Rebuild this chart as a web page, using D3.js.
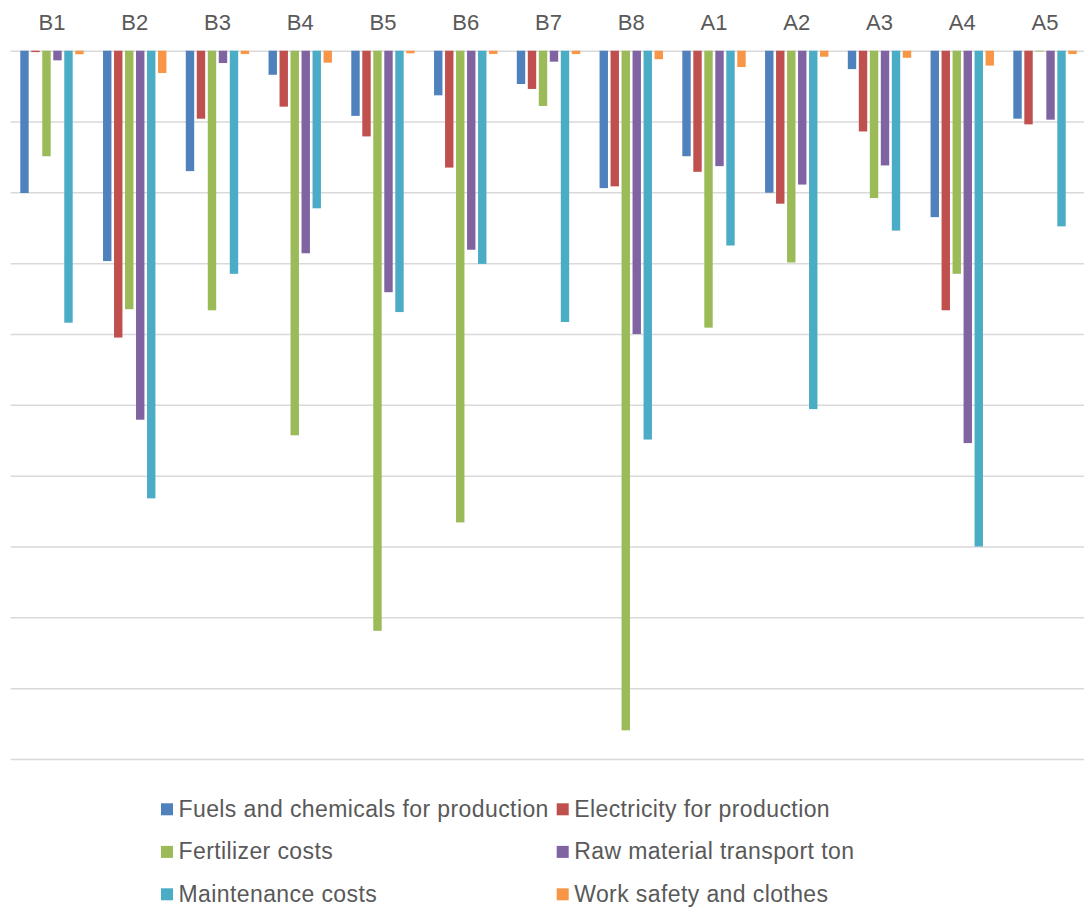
<!DOCTYPE html>
<html>
<head>
<meta charset="utf-8">
<script src="https://cdn.jsdelivr.net/npm/d3@7"></script>
<style>
  html, body { margin: 0; padding: 0; background: #fff; }
  svg { display: block; }
  text { font-family: "Liberation Sans", Arial, sans-serif; fill: #595959; }
</style>
</head>
<body>
<svg id="chart" width="1084" height="911"></svg>
<script>
// ---- data (values in grid units x10; one gridline = 10) ----
const categories = ["B1","B2","B3","B4","B5","B6","B7","B8","A1","A2","A3","A4","A5"];
const seriesNames = [
  "Fuels and chemicals for production",
  "Electricity for production",
  "Fertilizer costs",
  "Raw material transport ton",
  "Maintenance costs",
  "Work safety and clothes"
];
const fuels       = [-20.1, -29.7, -17.0,  -3.4,  -9.2,  -6.3,  -4.7, -19.4, -14.9, -20.05, -2.6, -23.5,  -9.6];
const electricity = [ -0.2, -40.5,  -9.6,  -7.9, -12.1, -16.5,  -5.4, -19.15,-17.1, -21.6, -11.4, -36.65, -10.4];
const fertilizer  = [-14.9, -36.5, -36.65, -54.3, -81.9, -66.6,  -7.8, -95.95,-39.1, -29.9, -20.8, -31.5,  -0.1];
const transport   = [ -1.36,-52.1,  -1.74, -28.6, -34.1, -28.1,  -1.55,-40.0, -16.3, -18.9, -16.2, -55.4,  -9.74];
const maintenance = [-38.4, -63.2, -31.5, -22.25, -36.9, -30.1, -38.3, -54.9, -27.5, -50.6, -25.4, -70.0, -24.8];
const safety      = [ -0.5,  -3.15, -0.47, -1.69, -0.37, -0.47, -0.47, -1.2,  -2.3,  -0.85, -1.0,  -2.1,  -0.47];
const colors = ["#4F81BD","#C0504D","#9BBB59","#8064A2","#4BACC6","#F79646"];
const yTicks = [0,-10,-20,-30,-40,-50,-60,-70,-80,-90,-100];

const seriesValues = [fuels, electricity, fertilizer, transport, maintenance, safety];

const svg = d3.select("#chart");
const plot = { left: 10.6, right: 1086.4, top: 50.7, bottom: 759 };

const x0 = d3.scaleBand().domain(categories).range([plot.left, plot.right])
  .paddingInner(0.234).paddingOuter(0.117);
const x1 = d3.scaleBand().domain(d3.range(seriesNames.length)).range([0, x0.bandwidth()])
  .paddingInner(0.236).paddingOuter(0);
const y = d3.scaleLinear().domain([-100, 0]).range([plot.bottom, plot.top]);

// gridlines
const grid = svg.append("g").attr("transform", `translate(${plot.left},0)`)
  .call(d3.axisLeft(y).tickValues(yTicks).tickSize(-(plot.right - plot.left)).tickFormat(""));
grid.select(".domain").remove();
grid.selectAll(".tick line").attr("stroke", "#d9d9d9").attr("stroke-width", 1.5);

// bars
const groups = svg.append("g").selectAll("g").data(categories).join("g")
  .attr("transform", d => `translate(${x0(d)},0)`);
groups.selectAll("rect")
  .data((c, ci) => seriesValues.map((vals, si) => ({ si, v: vals[ci] })))
  .join("rect")
  .attr("x", d => x1(d.si))
  .attr("width", x1.bandwidth())
  .attr("y", d => y(Math.max(0, d.v)))
  .attr("height", d => Math.abs(y(d.v) - y(0)))
  .attr("fill", d => colors[d.si]);

// category labels at top
const xAxis = svg.append("g").attr("transform", "translate(0,30)")
  .call(d3.axisTop(x0).tickSize(0).tickPadding(0));
xAxis.select(".domain").remove();
xAxis.selectAll("text").attr("font-size", 22).attr("fill", "#595959")
  .attr("font-family", '"Liberation Sans", Arial, sans-serif').attr("dy", 0);

// legend
const legendPos = [
  { x: 161, y: 816.7 }, { x: 556.7, y: 816.7 },
  { x: 161, y: 859.3 }, { x: 556.7, y: 859.3 },
  { x: 161, y: 901.7 }, { x: 556.7, y: 901.7 }
];
const legend = svg.append("g").selectAll("g").data(seriesNames).join("g")
  .attr("transform", (d, i) => `translate(${legendPos[i].x},${legendPos[i].y})`);
legend.append("rect").attr("x", 0).attr("y", -13.4).attr("width", 12).attr("height", 12)
  .attr("fill", (d, i) => colors[i]);
legend.append("text").attr("x", 17.5).attr("y", 0).attr("font-size", 23)
  .attr("letter-spacing", 0.4).text(d => d);
</script>
</body>
</html>
